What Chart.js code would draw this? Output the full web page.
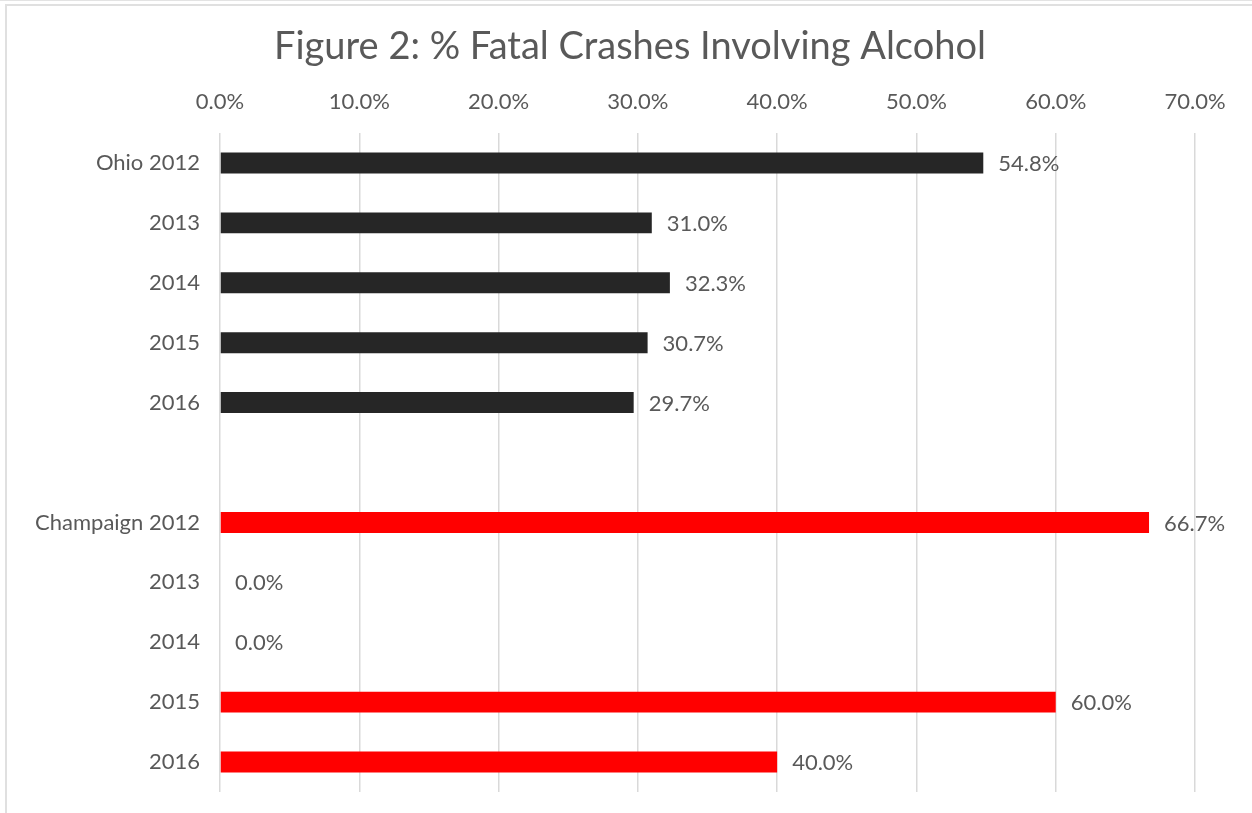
<!DOCTYPE html>
<html lang="en">
<head>
  <meta charset="UTF-8">
  <title>Figure 2: % Fatal Crashes Involving Alcohol</title>
  <script src="https://cdn.jsdelivr.net/npm/chart.js"></script>
  <style>
    html, body { margin: 0; padding: 0; background: white; overflow: hidden; }
    body { width: 1252px; height: 813px; position: relative; }
    .topline { position: absolute; left: 0; top: 0; width: 1252px; height: 1px; background: #e3e3e3; }
    .frame {
      position: absolute; left: 5px; top: 4px; width: 1400px; height: 900px;
      border: 2px solid #e0e0e0;
    }
    #chart { position: absolute; left: 0; top: 0; }
  </style>
</head>
<body>
<div class="topline"></div>
<div class="frame"></div>
<canvas id="chart" width="1252" height="813"></canvas>

<script>
const chartTitle = "Figure 2: % Fatal Crashes Involving Alcohol";
const categories = ["Ohio 2012", "2013", "2014", "2015", "2016", "", "Champaign 2012", "2013", "2014", "2015", "2016"];
const values = [54.8, 31.0, 32.3, 30.7, 29.7, null, 66.7, 0.0, 0.0, 60.0, 40.0];
const barColors = ["#262626", "#262626", "#262626", "#262626", "#262626", "#262626",
                   "#ff0000", "#ff0000", "#ff0000", "#ff0000", "#ff0000"];
const axisMin = 0, axisMax = 70, axisStep = 10;

const textGray = "#595959";
const fontName = "Lato, 'DejaVu Sans', sans-serif";

// title centred on the whole frame, value labels at the end of each bar
const extras = {
  id: 'extras',
  afterDraw(chart) {
    const ctx = chart.ctx;
    ctx.save();
    ctx.fillStyle = textGray;
    ctx.font = "38px " + fontName;
    ctx.textAlign = "center";
    ctx.textBaseline = "middle";
    ctx.fillText(chartTitle, 630, 47);
    ctx.restore();
  },
  afterDatasetsDraw(chart) {
    const ctx = chart.ctx;
    const meta = chart.getDatasetMeta(0);
    ctx.save();
    ctx.font = "22px " + fontName;
    ctx.fillStyle = textGray;
    ctx.textBaseline = "middle";
    ctx.textAlign = "left";
    meta.data.forEach((bar, i) => {
      if (values[i] === null) return;
      ctx.fillText(values[i].toFixed(1) + "%", bar.x + 15, bar.y + 1);
    });
    ctx.restore();
  }
};

new Chart(document.getElementById("chart"), {
  type: 'bar',
  data: {
    labels: categories,
    datasets: [{
      data: values,
      backgroundColor: barColors,
      borderWidth: 0,
      categoryPercentage: 1.0,
      barPercentage: 0.35
    }]
  },
  plugins: [extras],
  options: {
    indexAxis: 'y',
    responsive: false,
    animation: false,
    layout: { padding: { left: 0, right: 57, top: 69, bottom: 21 } },
    plugins: {
      legend: { display: false },
      tooltip: { enabled: false },
      title: { display: false }
    },
    scales: {
      x: {
        position: 'top',
        min: axisMin,
        max: axisMax,
        ticks: {
          stepSize: axisStep,
          color: textGray,
          font: { family: fontName, size: 22 },
          padding: 18,
          callback: v => v.toFixed(1) + "%"
        },
        grid: { color: "#d9d9d9", lineWidth: 1.5, drawTicks: false },
        border: { display: false },
        afterFit: s => { s.height = 64; s.paddingLeft = 0; s.paddingRight = 0; }
      },
      y: {
        ticks: {
          color: textGray,
          font: { family: fontName, size: 22 },
          padding: 20,
          autoSkip: false
        },
        grid: { display: false, drawTicks: false },
        border: { display: false },
        afterFit: s => { s.width = 220; s.paddingTop = 0; s.paddingBottom = 0; }
      }
    }
  }
});
</script>
</body>
</html>
